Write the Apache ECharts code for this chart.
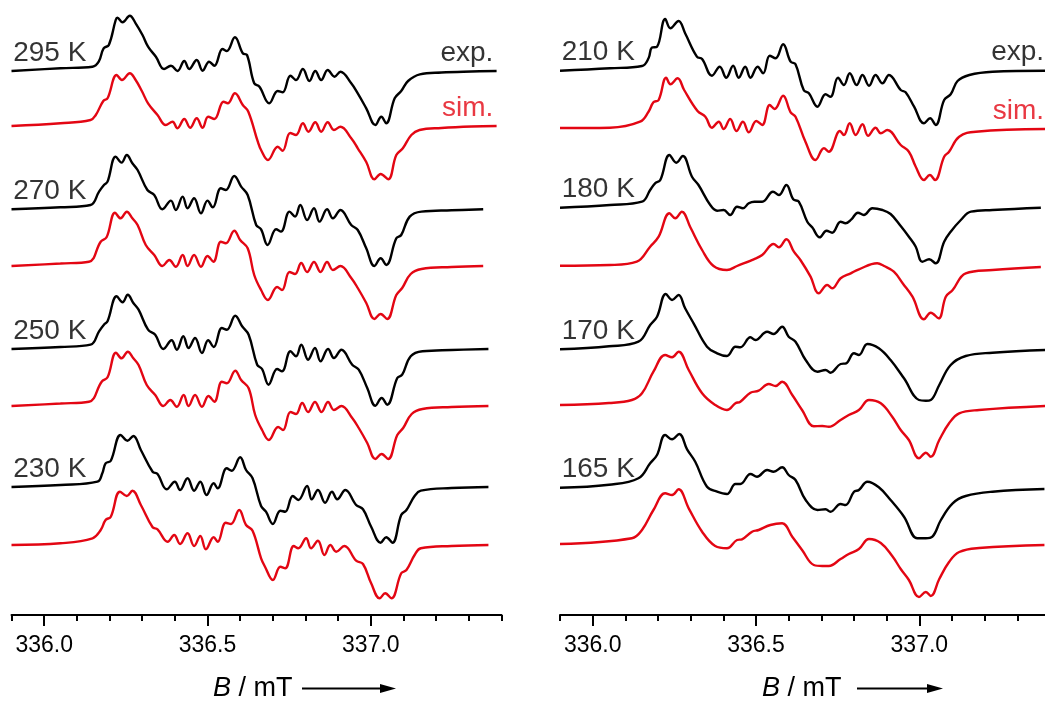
<!DOCTYPE html>
<html><head><meta charset="utf-8">
<script src="https://cdn.jsdelivr.net/npm/echarts@6/dist/echarts.min.js"></script>
<style>html,body{margin:0;padding:0;background:#fff}#c{width:1045px;height:703px}</style>
</head><body><div id="c"></div>
<script>
const FONT = 'Liberation Sans, Arial, Helvetica, sans-serif';
const xMin = 335.9, xMax = 337.4;
const majorTicks = [336.0, 336.5, 337.0];
const leftTemps = ['295 K','270 K','250 K','230 K'];
const rightTemps = ['210 K','180 K','170 K','165 K'];
// vertical stacking offsets (arbitrary intensity units)
const expOffsetsLeft = [544, 405.7, 266, 128];
const simOffsetsLeft = [489, 349, 209, 70];
const expOffsetsRight = [544.3, 407.3, 265.7, 127.3];
const simOffsetsRight = [487, 349.3, 210, 71];

// [B / mT, relative intensity]
const exp295 = [[335.900,0],[336.050,2.7],[336.148,4.3],[336.167,9.3],[336.182,22.7],[336.198,26],[336.219,51],[336.224,53.3],[336.240,48.7],[336.262,55.3],[336.280,47.7],[336.301,36],[336.318,24.3],[336.342,14.3],[336.367,2],[336.388,5.3],[336.408,0],[336.429,10],[336.444,2],[336.467,11],[336.485,0.3],[336.505,9.3],[336.521,5.3],[336.546,22],[336.559,20],[336.584,33.7],[336.608,17.7],[336.621,16],[336.643,-12.3],[336.659,-15.7],[336.689,-32.3],[336.715,-20],[336.730,-21.3],[336.754,-4.7],[336.771,-9],[336.792,2],[336.812,-10],[336.830,0],[336.848,-9],[336.868,1],[336.889,-5.7],[336.907,-0.7],[336.940,-12.3],[336.960,-22.3],[336.986,-37.3],[337.014,-54],[337.032,-45.7],[337.047,-52.3],[337.073,-27.3],[337.093,-20],[337.114,-10],[337.150,-3.3],[337.216,-1.5],[337.308,-0.5],[337.385,0]];
const sim295 = [[335.900,0],[336.050,2.7],[336.142,6],[336.158,11],[336.181,25],[336.194,27.7],[336.222,51],[336.238,46],[336.262,52.7],[336.280,46],[336.299,35],[336.318,22.7],[336.347,11],[336.372,1],[336.393,4.3],[336.408,-2.3],[336.429,7],[336.447,-1.7],[336.467,7.7],[336.485,-1.7],[336.502,9.3],[336.521,7],[336.549,24.3],[336.562,22.7],[336.584,32.7],[336.608,21],[336.625,14.3],[336.654,-15.7],[336.664,-24],[336.685,-34],[336.715,-20.7],[336.730,-24.7],[336.753,-7],[336.771,-9],[336.792,2.7],[336.809,-5.7],[336.830,3.7],[336.848,-5.7],[336.868,3.7],[336.887,-4],[336.907,-0.7],[336.940,-12.3],[336.960,-22.3],[336.986,-36],[337.011,-53.3],[337.030,-48],[337.053,-53.3],[337.078,-29],[337.098,-22.3],[337.124,-9],[337.149,-4],[337.216,-2],[337.308,-0.5],[337.385,0]];
const exp270 = [[335.900,0],[336.050,2],[336.142,4.3],[336.168,17.7],[336.183,24.3],[336.194,27.7],[336.219,52.7],[336.237,46.7],[336.253,54.3],[336.270,46],[336.286,39.3],[336.316,19.3],[336.337,14.3],[336.362,0],[336.388,8.7],[336.403,-0.7],[336.424,12.7],[336.439,1],[336.459,11],[336.480,-4],[336.500,8.7],[336.516,2],[336.541,21],[336.556,19.3],[336.582,33.3],[336.603,22.7],[336.623,14.3],[336.649,-15.7],[336.664,-20],[336.684,-35.7],[336.710,-20],[336.725,-22.3],[336.751,-2.3],[336.768,-7.3],[336.784,4.3],[336.805,-10.7],[336.826,1],[336.843,-12.3],[336.866,0],[336.884,-9],[336.907,-0.7],[336.940,-15.7],[336.960,-20.7],[336.986,-39],[337.011,-56.7],[337.030,-49],[337.047,-55.7],[337.078,-29],[337.093,-25.7],[337.119,-7.3],[337.155,-2.3],[337.247,-1],[337.344,0]];
const sim270 = [[335.900,0],[336.050,2.5],[336.137,4.3],[336.173,24.3],[336.191,28.7],[336.217,53.3],[336.234,47.7],[336.253,54.3],[336.270,47.7],[336.286,41],[336.311,21],[336.337,11],[336.362,0],[336.383,6],[336.403,-0.7],[336.424,11],[336.439,0],[336.459,11],[336.480,-0.7],[336.500,10],[336.518,4.3],[336.541,24.3],[336.556,22.7],[336.582,35.3],[336.600,26],[336.623,17.7],[336.643,-9],[336.664,-24],[336.685,-34],[336.713,-21],[336.728,-24],[336.751,-6],[336.768,-8],[336.787,3],[336.805,-6],[336.826,4],[336.846,-6],[336.866,4],[336.884,-4],[336.907,0],[336.940,-12],[336.960,-22],[336.986,-37],[337.011,-53],[337.030,-48],[337.050,-53],[337.078,-29],[337.096,-22],[337.122,-8],[337.155,-3],[337.247,-1],[337.344,0]];
const exp250 = [[335.900,0],[336.050,2],[336.142,4.3],[336.168,17.7],[336.183,24.3],[336.194,27.7],[336.222,52.7],[336.240,46.7],[336.256,54.3],[336.273,46],[336.289,39.3],[336.318,19.3],[336.340,14.3],[336.365,0],[336.390,8.7],[336.406,-0.7],[336.426,12.7],[336.442,1],[336.462,11],[336.483,-4],[336.502,8.7],[336.519,2],[336.544,21],[336.559,19.3],[336.585,33.3],[336.606,22.7],[336.626,14.3],[336.652,-15.7],[336.667,-20],[336.687,-35.7],[336.713,-20],[336.728,-22.3],[336.754,-2.3],[336.771,-7.3],[336.787,4.3],[336.808,-10.7],[336.829,1],[336.846,-12.3],[336.869,0],[336.887,-9],[336.910,-0.7],[336.943,-15.7],[336.963,-20.7],[336.989,-39],[337.014,-56.7],[337.033,-49],[337.050,-55.7],[337.081,-29],[337.096,-25.7],[337.122,-7.3],[337.158,-2.3],[337.247,-1],[337.360,0]];
const sim250 = [[335.900,0],[336.050,2.5],[336.137,4.3],[336.176,24.3],[336.194,28.7],[336.220,53.3],[336.237,47.7],[336.256,54.3],[336.273,47.7],[336.289,41],[336.314,21],[336.340,11],[336.365,0],[336.386,6],[336.406,-0.7],[336.427,11],[336.442,0],[336.462,11],[336.483,-0.7],[336.503,10],[336.521,4.3],[336.544,24.3],[336.559,22.7],[336.585,35.3],[336.603,26],[336.626,17.7],[336.646,-9],[336.667,-24],[336.688,-34],[336.716,-21],[336.731,-24],[336.754,-6],[336.771,-8],[336.790,3],[336.808,-6],[336.829,4],[336.849,-6],[336.869,4],[336.887,-4],[336.910,0],[336.943,-12],[336.963,-22],[336.989,-37],[337.014,-53],[337.033,-48],[337.053,-53],[337.081,-29],[337.099,-22],[337.125,-8],[337.158,-3],[337.247,-1],[337.360,0]];
const exp230 = [[335.900,0],[336.050,2],[336.163,5.3],[336.178,13.7],[336.188,23.7],[336.204,26.3],[336.234,52],[336.255,46.3],[336.273,51],[336.296,37],[336.332,15.3],[336.347,13],[336.375,-2.3],[336.400,5.3],[336.416,-3],[336.439,8.7],[336.459,-3.7],[336.478,5.3],[336.497,-8],[336.519,3.7],[336.531,-1.3],[336.559,18.7],[336.574,16.3],[336.600,29.7],[336.618,17],[336.638,8.7],[336.664,-19],[336.679,-24.7],[336.700,-37],[336.723,-23.7],[336.738,-24.7],[336.761,-9],[336.778,-13],[336.805,1],[336.819,-12.3],[336.838,-3],[336.860,-15.7],[336.881,-4.7],[336.897,-12.3],[336.922,-3],[336.955,-18],[336.976,-22.3],[337.001,-39.7],[337.030,-55.7],[337.047,-50.3],[337.066,-55.7],[337.093,-28],[337.109,-23],[337.134,-9],[337.153,-3.7],[337.247,-1],[337.360,0]];
const sim230 = [[335.900,0],[336.050,1.7],[336.148,6.7],[336.173,15],[336.188,25],[336.204,28.3],[336.232,53.3],[336.253,49],[336.270,54.3],[336.296,40],[336.332,17.7],[336.347,15.7],[336.378,3.3],[336.398,10],[336.416,1],[336.439,11.7],[336.459,-1],[336.478,9],[336.495,-4.3],[336.519,7.7],[336.531,3.3],[336.556,22.3],[336.572,21],[336.597,35],[336.618,20],[336.638,14.3],[336.664,-13.3],[336.676,-21.7],[336.700,-35],[336.723,-21.7],[336.738,-23.3],[336.764,-1],[336.778,-3.3],[336.802,6.7],[336.817,-3.3],[336.838,4.3],[336.858,-10],[336.876,0],[336.894,-6.7],[336.919,-1],[336.955,-15.7],[336.976,-19],[337.001,-38.3],[337.027,-53.3],[337.044,-48.3],[337.063,-53.3],[337.093,-28.3],[337.109,-25],[337.134,-10],[337.153,-3.3],[337.247,-1],[337.360,0]];

const exp210 = [[335.900,0],[336.053,2.4],[336.151,4.7],[336.171,12.4],[336.181,23],[336.197,24],[336.222,51.7],[336.238,42.4],[336.263,49.7],[336.283,37.4],[336.319,14],[336.335,11.7],[336.365,-5],[336.389,4],[336.409,-7],[336.430,5],[336.447,-7],[336.467,4],[336.483,-7],[336.505,4],[336.522,-2.6],[336.542,15],[336.560,12.4],[336.583,26.4],[336.606,9],[336.621,6.4],[336.646,-19.3],[336.662,-22.6],[336.688,-36],[336.713,-23.6],[336.728,-26],[336.751,-7],[336.769,-14.3],[336.787,-2.6],[336.808,-14.3],[336.826,-4.3],[336.846,-15],[336.866,-4.3],[336.887,-12.6],[336.907,-4.3],[336.943,-19.3],[336.958,-21.6],[336.984,-36],[337.014,-52.6],[337.033,-47.6],[337.050,-54.3],[337.076,-29.3],[337.096,-23.6],[337.117,-10.3],[337.153,-4.3],[337.224,-1],[337.388,0]];
const sim210 = [[335.900,0],[336.053,0.3],[336.145,6.3],[336.171,16.3],[336.186,25.7],[336.202,28],[336.225,50.3],[336.238,43.7],[336.260,49.7],[336.280,38],[336.321,17],[336.345,11.3],[336.365,0.3],[336.386,6.3],[336.401,-1],[336.421,9],[336.440,-3],[336.460,6.3],[336.478,-4.3],[336.501,7],[336.519,3],[336.542,23],[336.557,19],[336.583,32.3],[336.606,15.7],[336.621,11.3],[336.652,-14.3],[336.682,-32],[336.708,-20.3],[336.723,-23.7],[336.757,-3],[336.769,-7],[336.787,4.7],[336.805,-7],[336.826,3.7],[336.843,-7.7],[336.866,0.3],[336.882,-5.3],[336.902,-2],[336.943,-17],[336.968,-23.7],[336.989,-38.7],[337.014,-52],[337.032,-47],[337.048,-52],[337.076,-28.7],[337.091,-23.7],[337.122,-8.7],[337.173,-3.7],[337.388,-1]];
const exp180 = [[335.900,0],[336.053,2.7],[336.151,6],[336.176,17.7],[336.191,24.4],[336.207,27.7],[336.235,52.7],[336.256,45],[336.276,51.7],[336.304,31],[336.324,22.7],[336.360,2.7],[336.381,-3],[336.401,-2.3],[336.421,-7.3],[336.442,1],[336.460,-0.6],[336.478,4.4],[336.495,6],[336.519,6],[336.552,16],[336.570,12.7],[336.593,22.7],[336.614,8.4],[336.631,6],[336.657,-14],[336.672,-19.6],[336.695,-29.6],[336.716,-23],[336.733,-25],[336.759,-14],[336.774,-15.6],[336.792,-11.6],[336.812,-5],[336.830,-7.3],[336.856,-0.6],[336.887,-2.3],[336.912,-6.3],[336.943,-18.3],[336.968,-29],[336.989,-39],[337.009,-54],[337.030,-51.6],[337.050,-55.6],[337.076,-34],[337.096,-24],[337.127,-12.3],[337.158,-4],[337.224,-2.3],[337.372,0]];
const sim180 = [[335.900,0],[336.053,0.7],[336.135,4],[336.176,19],[336.202,29],[336.235,52.4],[336.253,47.4],[336.273,54],[336.299,38.4],[336.335,15.7],[336.370,-0.3],[336.411,-4.3],[336.442,-0.3],[336.493,6.4],[336.519,10.7],[336.554,21.7],[336.570,18.4],[336.593,26.4],[336.616,14],[336.636,5.7],[336.667,-11],[336.692,-27.6],[336.718,-19.3],[336.733,-22.6],[336.759,-12.6],[336.790,-7.6],[336.815,-3.6],[336.871,2.4],[336.892,-0.3],[336.922,-6],[336.950,-18],[336.979,-31],[337.014,-53.6],[337.035,-47],[337.059,-52.6],[337.081,-31],[337.102,-24.3],[337.142,-7.6],[337.224,-4.3],[337.372,-1.3]];
const exp170 = [[335.900,0],[336.050,3],[336.140,7.6],[336.176,24.3],[336.197,32.6],[336.224,55.3],[336.243,49.3],[336.263,54.3],[336.283,41],[336.309,26],[336.350,2.6],[336.381,-4],[336.411,-6.7],[336.437,2.6],[336.452,2],[336.483,12],[336.498,9.3],[336.534,17.6],[336.554,15.3],[336.580,22.6],[336.600,12.6],[336.621,7.6],[336.652,-10.7],[336.688,-22.4],[336.713,-20.7],[336.728,-23.4],[336.759,-14.7],[336.776,-14],[336.800,-4],[336.815,-5.7],[336.841,5.3],[336.876,1],[336.912,-10.7],[336.953,-29],[336.999,-50.7],[337.020,-51.4],[337.035,-50.7],[337.061,-35.7],[337.096,-15.7],[337.142,-6.7],[337.224,-3.4],[337.388,-0.7]];
const sim170 = [[335.900,0],[336.050,2],[336.120,5],[336.151,11.7],[336.186,33.3],[336.222,50],[336.243,47.7],[336.263,53.3],[336.294,35],[336.335,11.7],[336.375,0],[336.411,-5],[336.437,1.7],[336.452,3.3],[336.483,12.3],[336.508,14.3],[336.539,21],[336.560,19],[336.580,23.3],[336.611,10],[336.641,-5],[336.677,-21.3],[336.703,-21],[336.723,-21.7],[336.759,-15],[336.784,-10],[336.815,-5],[336.846,5],[336.882,1.7],[336.917,-11.7],[336.943,-25],[336.968,-35],[336.999,-53.3],[337.020,-47.7],[337.035,-51.7],[337.061,-35],[337.091,-18.3],[337.122,-8.3],[337.183,-5],[337.388,-1]];
const exp165 = [[335.900,0],[336.050,3],[336.140,9.4],[336.176,24.4],[336.197,32.7],[336.222,52.7],[336.243,48.4],[336.265,53.7],[336.289,38.4],[336.314,26],[336.350,1],[336.381,-4],[336.411,-6.3],[336.437,3.7],[336.452,3.7],[336.483,13.7],[336.503,11],[336.534,17.7],[336.554,16],[336.580,20.4],[336.600,12.7],[336.621,7.7],[336.652,-12.3],[336.688,-22.3],[336.713,-21.6],[336.728,-24],[336.759,-16.3],[336.774,-17.3],[336.800,-4],[336.815,-2.3],[336.841,6],[336.876,0.4],[336.912,-12.3],[336.953,-29],[336.994,-50.6],[337.020,-50.6],[337.040,-49],[337.066,-32.3],[337.102,-15.6],[337.142,-8.3],[337.224,-4],[337.383,-1.3]];
const sim165 = [[335.900,0],[336.120,5.7],[336.151,14],[336.186,34],[336.222,50.7],[336.243,49],[336.263,54.7],[336.294,35.7],[336.335,12.3],[336.375,-2],[336.411,-4.3],[336.442,4],[336.457,4.7],[336.488,12.3],[336.508,14],[336.544,19],[336.580,20.7],[336.611,7.3],[336.641,-6],[336.677,-21],[336.703,-22],[336.723,-22],[336.759,-15],[336.784,-10],[336.815,-5],[336.846,5],[336.882,1],[336.917,-12],[336.943,-25],[336.968,-36],[336.999,-53],[337.020,-48],[337.035,-52],[337.061,-35],[337.091,-18],[337.122,-8],[337.183,-4],[337.383,-1]];

const leftExp = [exp295, exp270, exp250, exp230];
const leftSim = [sim295, sim270, sim250, sim230];
const rightExp = [exp210, exp180, exp170, exp165];
const rightSim = [sim210, sim180, sim170, sim165];

const BLACK = '#000000', RED = '#e30613';
const chart = echarts.init(document.getElementById('c'), null, {renderer: 'canvas'});

const grids = [
  {left: 11.5, top: 0, width: 490, height: 615, outerBoundsMode: 'none', containLabel: false},
  {left: 560, top: 0, width: 490, height: 615, outerBoundsMode: 'none', containLabel: false}
];
const xAxes = [], yAxes = [];
grids.forEach((g, gi) => {
  xAxes.push({
    gridIndex: gi, type: 'value', position: 'bottom', min: xMin, max: xMax, interval: 0.1,
    axisLine: {show: true, onZero: false, lineStyle: {color: '#000', width: 2}},
    axisTick: {show: true, length: 6, lineStyle: {color: '#000', width: 2}},
    axisLabel: {show: false}, splitLine: {show: false}
  });
  xAxes.push({
    gridIndex: gi, type: 'value', position: 'bottom', offset: 0, min: xMin, max: xMax,
    axisLine: {show: false, onZero: false},
    axisTick: {show: true, length: 11, customValues: majorTicks, lineStyle: {color: '#000', width: 2}},
    axisLabel: {show: true, customValues: majorTicks, formatter: v => v.toFixed(1),
      fontFamily: FONT, fontSize: 23, color: '#000', margin: 19},
    splitLine: {show: false}
  });
  yAxes.push({gridIndex: gi, type: 'value', min: 0, max: 615, show: false});
});

const series = [];
function addTrace(data, offset, color, gi) {
  series.push({
    type: 'line', xAxisIndex: gi * 2, yAxisIndex: gi,
    data: data.map(p => [p[0], p[1] + offset]),
    showSymbol: false, symbol: 'none', smooth: 0.4,
    lineStyle: {color: color, width: 2.4}, silent: true, z: 2
  });
}
leftExp.forEach((d, i) => addTrace(d, expOffsetsLeft[i], BLACK, 0));
leftSim.forEach((d, i) => addTrace(d, simOffsetsLeft[i], RED, 0));
rightExp.forEach((d, i) => addTrace(d, expOffsetsRight[i], BLACK, 1));
rightSim.forEach((d, i) => addTrace(d, simOffsetsRight[i], RED, 1));

function labelSeries(gi, items, align, color) {
  series.push({
    type: 'scatter', xAxisIndex: gi * 2, yAxisIndex: gi, symbolSize: 0, silent: true, z: 5,
    data: items,
    label: {show: true, formatter: '{b}', position: [0, 0], align: align, verticalAlign: 'bottom',
      fontFamily: FONT, fontSize: 28, color: color}
  });
}
labelSeries(0, leftTemps.map((t, i) => ({name: t, value: [335.905, expOffsetsLeft[i] + 4]})), 'left', '#000');
labelSeries(1, rightTemps.map((t, i) => ({name: t, value: [335.905, expOffsetsRight[i] + 4]})), 'left', '#000');
labelSeries(0, [{name: 'exp.', value: [337.375, expOffsetsLeft[0] + 4]}], 'right', '#000');
labelSeries(0, [{name: 'sim.', value: [337.375, simOffsetsLeft[0] + 4]}], 'right', RED);
labelSeries(1, [{name: 'exp.', value: [337.382, expOffsetsRight[0] + 4]}], 'right', '#000');
labelSeries(1, [{name: 'sim.', value: [337.382, simOffsetsRight[0] + 3]}], 'right', RED);

function axisTitle(x, lx1, hx) {
  return [
    {type: 'text', left: x, top: 675, style: {text: '{i|B} / mT', font: '27px ' + FONT, fill: '#000',
      rich: {i: {fontStyle: 'italic', fontSize: 27, fontFamily: FONT}}}},
    {type: 'line', shape: {x1: lx1, y1: 688.5, x2: hx - 6, y2: 688.5}, style: {stroke: '#000', lineWidth: 2}},
    {type: 'polygon', shape: {points: [[hx - 16, 684], [hx, 688.5], [hx - 16, 693]]}, style: {fill: '#000'}}
  ];
}

chart.setOption({
  animation: false,
  backgroundColor: '#fff',
  grid: grids,
  xAxis: xAxes,
  yAxis: yAxes,
  series: series,
  graphic: [].concat(axisTitle(213, 302, 396), axisTitle(762, 857, 943))
});
</script></body></html>
